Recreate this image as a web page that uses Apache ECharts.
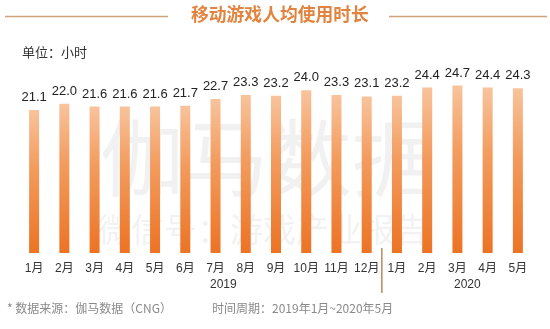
<!DOCTYPE html>
<html>
<head>
<meta charset="utf-8">
<script src="https://cdn.jsdelivr.net/npm/echarts@6/dist/echarts.min.js"></script>
<style>
html,body{margin:0;padding:0;background:#fff;}
#chart{width:550px;height:329px;}
</style>
</head>
<body>
<div id="chart"></div>
<script>
var months = ['1月','2月','3月','4月','5月','6月','7月','8月','9月','10月','11月','12月','1月','2月','3月','4月','5月'];
var hours = [21.1,22.0,21.6,21.6,21.6,21.7,22.7,23.3,23.2,24.0,23.3,23.1,23.2,24.4,24.7,24.4,24.3];
var years = ['2019','2020'];
var titleText = '移动游戏人均使用时长';
var unitText = '单位：小时';
var sourceText = '* 数据来源：伽马数据（CNG）';
var periodText = '时间周期：2019年1月~2020年5月';

var chart = echarts.init(document.getElementById('chart'), null, {renderer:'canvas'});
var font = '"Liberation Sans", Arial, "Noto Sans CJK SC", sans-serif';

chart.setOption({
  animation:false,
  backgroundColor:'#ffffff',
  grid:{left:19,right:17,top:83.5,bottom:76},
  xAxis:{
    type:'category',
    data:months,
    axisLine:{show:false},
    axisTick:{show:false},
    axisLabel:{color:'#333',fontSize:12,margin:10,fontFamily:font,interval:0}
  },
  yAxis:{type:'value',min:0,max:25,show:false,splitLine:{show:false}},
  graphic:[
    {id:'wm1',type:'text',z:-10,left:100,top:116,style:{text:'伽马数据',fill:'#f1f1f1',font:'normal 84px "Noto Sans CJK SC", sans-serif'}},
    {id:'wm2',type:'text',z:-10,left:98,top:213,style:{text:'微信号：游戏产业报告',fill:'#f2f2f2',font:'normal 33px "Noto Sans CJK SC", sans-serif'}},
    {id:'tl',type:'line',shape:{x1:5,y1:16.5,x2:168,y2:16.5},style:{stroke:'#cfa27c',lineWidth:1.5}},
    {id:'tr',type:'line',shape:{x1:389,y1:16.5,x2:547,y2:16.5},style:{stroke:'#cfa27c',lineWidth:1.5}},
    {id:'title',type:'text',left:191,top:5,style:{text:titleText,fill:'#e2833f',font:'bold 17.8px "Noto Sans CJK SC", sans-serif'}},
    {id:'unit',type:'text',left:22,top:46,style:{text:unitText,fill:'#333',font:'13px "Noto Sans CJK SC", sans-serif'}},
    {id:'src',type:'text',left:7,top:302,style:{text:sourceText,fill:'#8a8a8a',font:'12px "Noto Sans CJK SC", sans-serif'}},
    {id:'per',type:'text',left:212,top:302,style:{text:periodText,fill:'#8a8a8a',font:'12px "Noto Sans CJK SC", sans-serif'}}
  ],
  series:[{
    type:'bar',
    data:hours,
    barWidth:10,
    itemStyle:{
      color:new echarts.graphic.LinearGradient(0,0,0,1,[
        {offset:0,color:'#f8c39c'},
        {offset:0.4,color:'#f39c5e'},
        {offset:1,color:'#ec7324'}
      ])
    },
    label:{
      show:true,position:'top',distance:6,color:'#222',fontSize:13,fontFamily:font,
      formatter:function(p){return p.value.toFixed(1);}
    }
  }]
});

// Year labels and separator positioned via the category axis
var p11 = chart.convertToPixel({xAxisIndex:0}, 11);
var p12 = chart.convertToPixel({xAxisIndex:0}, 12);
var sepX = (p11 + p12) / 2;
var y0 = chart.convertToPixel({yAxisIndex:0}, 0);
chart.setOption({
  graphic:[
    {id:'y1',type:'text',left:210,top:279,style:{text:years[0],fill:'#333',font:'12px '+font}},
    {id:'y2',type:'text',left:454,top:279,style:{text:years[1],fill:'#333',font:'12px '+font}},
    {id:'sep',type:'line',shape:{x1:sepX,y1:y0-5,x2:sepX,y2:y0+40},style:{stroke:'#b98a5e',lineWidth:1.5}}
  ]
});
</script>
</body>
</html>
